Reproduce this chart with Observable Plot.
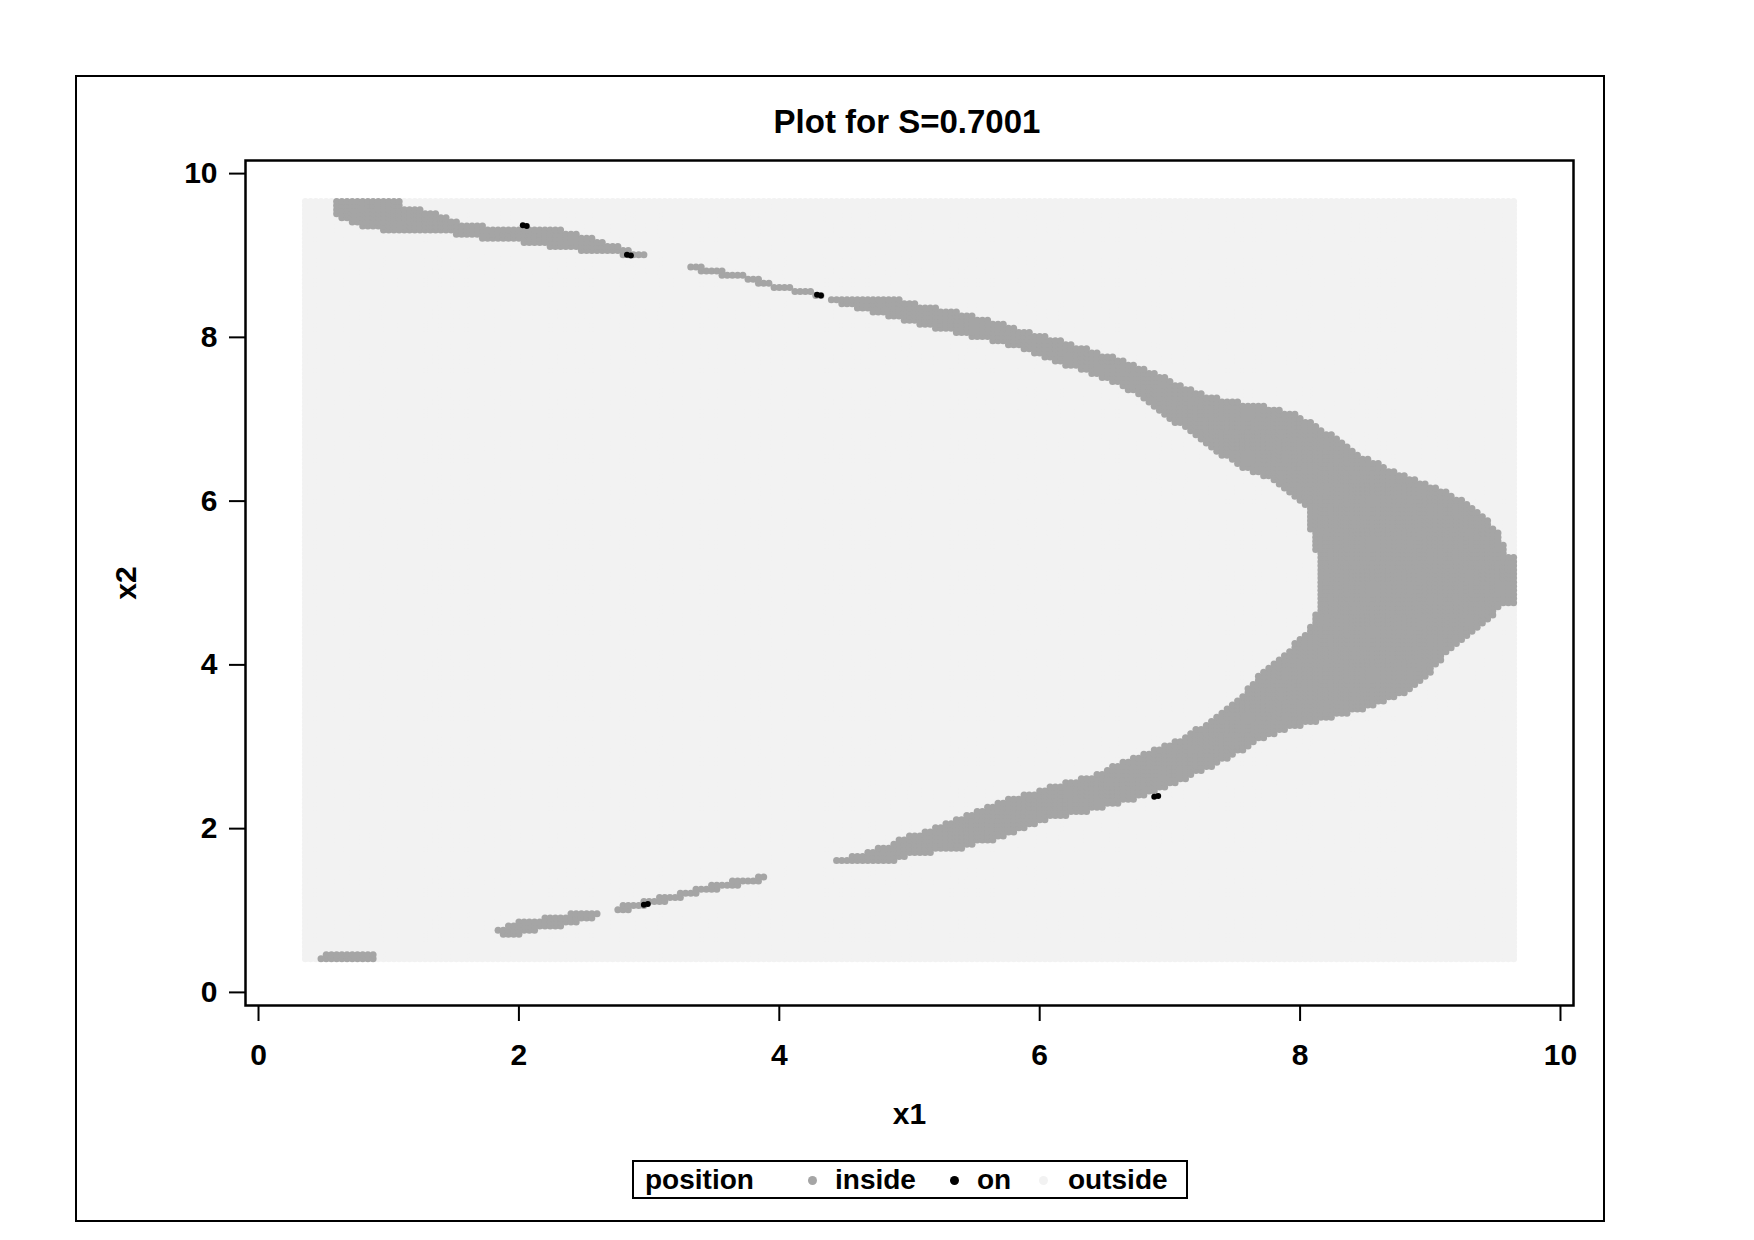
<!DOCTYPE html>
<html><head><meta charset="utf-8">
<script src="https://cdn.jsdelivr.net/npm/d3@7"></script>
<script src="https://cdn.jsdelivr.net/npm/@observablehq/plot@0.6"></script>
<style>
body{margin:0;background:#fff;}
#page{position:relative;width:1754px;height:1240px;font-family:'Liberation Sans',Arial,sans-serif;font-weight:bold;color:#000;overflow:hidden;background:#fff}
#border{position:absolute;left:75px;top:75px;width:1530px;height:1147px;border:2px solid #000;box-sizing:border-box}
#chart{position:absolute;left:0;top:0}
#title{position:absolute;left:0;width:1814px;top:105px;text-align:center;font-size:33px;line-height:33px;white-space:nowrap}
#legend{position:absolute;left:632px;top:1160px;width:556px;height:39px;border:2px solid #000;box-sizing:border-box}
.lg{position:absolute;font-size:28px;line-height:28px;white-space:nowrap}
.ld{position:absolute;width:9px;height:9px;border-radius:50%}
</style></head><body>
<div id="page">
<div id="border"></div>
<div id="chart"></div>
<div id="title"></div>
<div id="legend"></div>
</div>
<script>
// ---- text ----
const titleText = "Plot for S=0.7001";
const xLabel = "x1";
const yLabel = "x2";
const xTicks = [0, 2, 4, 6, 8, 10];
const yTicks = [0, 2, 4, 6, 8, 10];
const legendTitle = "position";
const categories = ["inside", "on", "outside"];
const categoryColors = ["#a5a5a5", "#000000", "#f2f2f2"];

// ---- evaluation grid (x1, x2) ----
const gridX1 = {start: 0.36, step: 0.04, count: 233};
const gridX2 = {start: 0.41, step: 0.05, count: 186};

// ---- "inside" regions, [x1, x2] vertices ----
const topLeftBlob = [[0.57,9.80],[1.09,9.80],[1.11,9.60],[1.19,9.58],[1.30,9.54],[1.40,9.50],[1.50,9.42],[1.65,9.39],[1.76,9.36],[1.91,9.33],[2.30,9.32],[2.42,9.27],[2.55,9.23],[2.68,9.16],[2.80,9.09],[2.93,9.03],[3.00,8.99],[2.83,9.00],[2.45,9.06],[2.17,9.12],[1.96,9.17],[1.76,9.20],[1.53,9.24],[1.50,9.29],[0.96,9.30],[0.78,9.35],[0.68,9.42],[0.63,9.47],[0.57,9.52]];
const topThinLine = [[3.30,8.89],[3.70,8.78],[3.96,8.66],[4.31,8.55],[4.31,8.49],[3.96,8.60],[3.70,8.72],[3.30,8.83]];
const mainBand = [
  [4.25,8.54],[4.40,8.49],[4.90,8.48],[5.15,8.38],[5.50,8.27],[5.76,8.14],[6.10,8.00],[6.36,7.87],[6.62,7.73],[6.87,7.59],[7.04,7.46],[7.26,7.31],[7.47,7.23],[7.73,7.16],[7.99,7.05],[8.16,6.89],[8.33,6.73],[8.46,6.55],[8.68,6.41],[9.00,6.21],[9.16,6.09],[9.31,5.97],[9.41,5.81],[9.52,5.64],[9.56,5.48],[9.60,5.36],[9.80,5.36],
  [9.80,4.76],[9.60,4.76],[9.52,4.67],[9.41,4.50],[9.29,4.34],[9.16,4.18],[9.06,4.01],[8.98,3.85],[8.89,3.72],[8.68,3.56],[8.42,3.42],[8.16,3.31],[7.90,3.22],[7.65,3.04],[7.47,2.88],[7.30,2.74],[7.04,2.54],[6.87,2.43],[6.62,2.30],[6.36,2.20],[6.11,2.13],[5.86,1.99],[5.70,1.88],[5.52,1.81],[5.38,1.75],[5.19,1.72],[5.09,1.68],[4.94,1.65],[4.87,1.58],[4.38,1.58],
  [4.42,1.63],[4.50,1.64],[4.60,1.68],[4.73,1.75],[4.86,1.80],[4.96,1.90],[5.09,1.95],[5.19,2.03],[5.27,2.07],[5.50,2.22],[5.76,2.36],[6.10,2.52],[6.36,2.63],[6.62,2.80],[6.87,2.96],[7.04,3.07],[7.22,3.23],[7.39,3.41],[7.56,3.64],[7.67,3.85],[7.77,3.98],[7.93,4.22],[8.03,4.38],[8.08,4.50],[8.12,4.62],[8.16,4.67],
  [8.16,5.11],[8.13,5.13],[8.11,5.64],[8.07,5.66],[8.06,5.89],
  [7.98,6.01],[7.79,6.27],[7.56,6.38],[7.39,6.57],[7.22,6.76],[7.04,6.96],[6.87,7.16],[6.62,7.41],[6.36,7.57],[6.10,7.71],[5.76,7.91],[5.33,8.06],[4.90,8.22],[4.60,8.36],[4.40,8.44]
];
const bottomPiece1 = [[1.82,0.80],[1.86,0.80],[1.94,0.84],[2.07,0.89],[2.22,0.92],[2.32,0.95],[2.50,0.98],[2.74,0.99],[2.63,0.96],[2.53,0.88],[2.37,0.82],[2.24,0.79],[2.09,0.75],[2.04,0.71],[1.86,0.71],[1.82,0.75]];
const bottomPiece2 = [[2.76,1.05],[2.96,1.12],[3.20,1.20],[3.40,1.29],[3.60,1.35],[3.80,1.40],[3.92,1.45],[3.92,1.39],[3.80,1.33],[3.60,1.28],[3.40,1.22],[3.20,1.13],[2.96,1.05],[2.76,0.98]];
const bottomLeftPatch = [[0.46,0.38],[0.46,0.45],[0.56,0.50],[0.90,0.50],[0.90,0.38]];
const insideRegions = [topLeftBlob, topThinLine, mainBand, bottomPiece1, bottomPiece2, bottomLeftPatch];

// ---- "on" points ----
const onX1 = [2.03, 2.06, 2.83, 2.86, 4.29, 4.32, 6.88, 6.91, 2.96, 2.99];
const onX2 = [9.37, 9.36, 9.01, 9.00, 8.52, 8.51, 2.39, 2.40, 1.07, 1.08];

// ---- build table ----
const boxes = insideRegions.map(p => [d3.min(p, d => d[0]), d3.max(p, d => d[0]), d3.min(p, d => d[1]), d3.max(p, d => d[1])]);
const gridPts = [];
for (let j = 0; j < gridX2.count; j++) {
  const y = +(gridX2.start + j * gridX2.step).toFixed(3);
  for (let i = 0; i < gridX1.count; i++) {
    const x = +(gridX1.start + i * gridX1.step).toFixed(3);
    let inside = false;
    for (let k = 0; k < insideRegions.length && !inside; k++) {
      const b = boxes[k];
      if (x < b[0] || x > b[1] || y < b[2] || y > b[3]) continue;
      if (d3.polygonContains(insideRegions[k], [x, y])) inside = true;
    }
    gridPts.push({x1: x, x2: y, position: inside ? "inside" : "outside"});
  }
}
const onPts = onX1.map((x, i) => ({x1: x, x2: onX2[i], position: "on"}));
const colorOf = Object.fromEntries(categories.map((c, i) => [c, categoryColors[i]]));

const chart = Plot.plot({
  width: 1754,
  height: 1240,
  marginLeft: 245,
  marginRight: 181,
  marginTop: 160,
  marginBottom: 235,
  style: {fontFamily: "'Liberation Sans', Arial, sans-serif", fontWeight: "bold", fontSize: "30px", background: "transparent", overflow: "visible"},
  x: {domain: [-0.1, 10.1]},
  y: {domain: [-0.16, 10.16]},
  marks: [
    Plot.dot(gridPts.filter(d => d.position === "outside"), {x: "x1", y: "x2", r: 3.5, fill: colorOf.outside}),
    Plot.dot(gridPts.filter(d => d.position === "inside"), {x: "x1", y: "x2", r: 3.5, fill: colorOf.inside}),
    Plot.dot(onPts, {x: "x1", y: "x2", r: 3, fill: colorOf.on}),
    Plot.frame({stroke: "#000", strokeWidth: 2.5}),
    Plot.axisX({ticks: xTicks, tickSize: 16, tickPadding: 22, strokeWidth: 2, label: null, fontSize: 30, fontWeight: "bold"}),
    Plot.axisY({ticks: yTicks, tickSize: 16, tickPadding: 12, strokeWidth: 2, label: null, fontSize: 30, fontWeight: "bold"}),
    Plot.text([xLabel], {text: d => d, frameAnchor: "bottom", dy: 109, lineAnchor: "middle", textAnchor: "middle", fontSize: 30, fontWeight: "bold"}),
    Plot.text([yLabel], {text: d => d, frameAnchor: "left", dx: -119, rotate: -90, lineAnchor: "middle", textAnchor: "middle", fontSize: 30, fontWeight: "bold"})
  ]
});
document.getElementById("chart").appendChild(chart);
document.getElementById("title").textContent = titleText;

// ---- legend ----
const legend = document.getElementById("legend");
const legendLeft = 632, legendTop = 1160;
function addText(txt, x) {
  const s = document.createElement("span");
  s.className = "lg"; s.textContent = txt;
  s.style.left = (x - legendLeft - 2) + "px";
  s.style.top = (1166 - legendTop - 2) + "px";
  legend.appendChild(s);
}
function addDot(color, cx) {
  const s = document.createElement("span");
  s.className = "ld"; s.style.background = color;
  s.style.left = (cx - 4.5 - legendLeft - 2) + "px";
  s.style.top = (1180 - 4.5 - legendTop - 2) + "px";
  legend.appendChild(s);
}
addText(legendTitle, 645);
const dotCx = [812, 954, 1043];
const textX = [835, 977, 1068];
categories.forEach((c, i) => { addDot(categoryColors[i], dotCx[i]); addText(c, textX[i]); });
</script>
</body></html>
